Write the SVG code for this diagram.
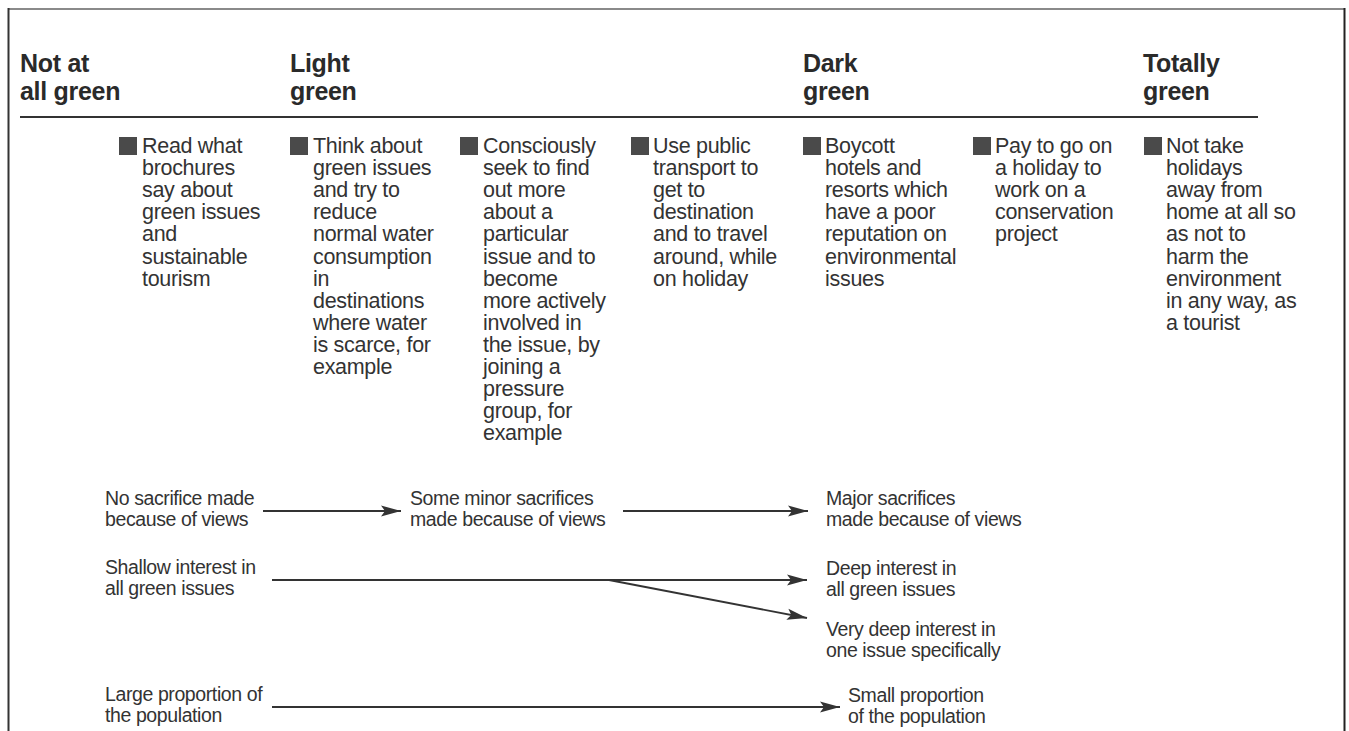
<svg xmlns="http://www.w3.org/2000/svg" width="1349" height="731" viewBox="0 0 1349 731">
<defs>
<style>
.hd{font-family:"Liberation Sans",Arial,sans-serif;font-weight:bold;font-size:25px;fill:#2a2a2a;letter-spacing:-0.3px}
.bt{font-family:"Liberation Sans",Arial,sans-serif;font-size:21.5px;fill:#333;letter-spacing:-0.3px}
.lb{font-family:"Liberation Sans",Arial,sans-serif;font-size:19.5px;fill:#333;letter-spacing:-0.4px}
.sq{fill:#4a4a4a}
.ln{stroke:#333;stroke-width:1.8;fill:none}
</style>
<marker id="ah" markerUnits="userSpaceOnUse" markerWidth="22" markerHeight="12" refX="20" refY="6" orient="auto">
<path d="M0,0.5 L20,6 L0,11.5 L4,6 Z" fill="#333"/>
</marker>
</defs>
<rect x="0" y="0" width="1349" height="731" fill="#fff"/>
<g id="frame">
<line x1="8" y1="9" x2="1345" y2="9" stroke="#8a8a8a" stroke-width="2"/>
<line x1="8.5" y1="8" x2="8.5" y2="731" stroke="#333" stroke-width="2"/>
<line x1="1344.5" y1="8" x2="1344.5" y2="731" stroke="#222" stroke-width="2"/>
</g>
<g id="headings">
<text class="hd" x="20" y="72">Not at</text>
<text class="hd" x="20" y="100">all green</text>
<text class="hd" x="290" y="72">Light</text>
<text class="hd" x="290" y="100">green</text>
<text class="hd" x="803" y="72">Dark</text>
<text class="hd" x="803" y="100">green</text>
<text class="hd" x="1143" y="72">Totally</text>
<text class="hd" x="1143" y="100">green</text>
<line x1="20" y1="117" x2="1258" y2="117" stroke="#333" stroke-width="2"/>
</g>
<g id="b1">
<rect class="sq" x="119" y="137" width="18" height="18"/>
<text class="bt" x="142" y="153">Read what<tspan x="142" dy="22.1">brochures</tspan><tspan x="142" dy="22.1">say about</tspan><tspan x="142" dy="22.1">green issues</tspan><tspan x="142" dy="22.1">and</tspan><tspan x="142" dy="22.1">sustainable</tspan><tspan x="142" dy="22.1">tourism</tspan></text>
</g>
<g id="b2">
<rect class="sq" x="290" y="137" width="18" height="18"/>
<text class="bt" x="313" y="153">Think about<tspan x="313" dy="22.1">green issues</tspan><tspan x="313" dy="22.1">and try to</tspan><tspan x="313" dy="22.1">reduce</tspan><tspan x="313" dy="22.1">normal water</tspan><tspan x="313" dy="22.1">consumption</tspan><tspan x="313" dy="22.1">in</tspan><tspan x="313" dy="22.1">destinations</tspan><tspan x="313" dy="22.1">where water</tspan><tspan x="313" dy="22.1">is scarce, for</tspan><tspan x="313" dy="22.1">example</tspan></text>
</g>
<g id="b3">
<rect class="sq" x="460" y="137" width="18" height="18"/>
<text class="bt" x="483" y="153">Consciously<tspan x="483" dy="22.1">seek to find</tspan><tspan x="483" dy="22.1">out more</tspan><tspan x="483" dy="22.1">about a</tspan><tspan x="483" dy="22.1">particular</tspan><tspan x="483" dy="22.1">issue and to</tspan><tspan x="483" dy="22.1">become</tspan><tspan x="483" dy="22.1">more actively</tspan><tspan x="483" dy="22.1">involved in</tspan><tspan x="483" dy="22.1">the issue, by</tspan><tspan x="483" dy="22.1">joining a</tspan><tspan x="483" dy="22.1">pressure</tspan><tspan x="483" dy="22.1">group, for</tspan><tspan x="483" dy="22.1">example</tspan></text>
</g>
<g id="b4">
<rect class="sq" x="631" y="137" width="18" height="18"/>
<text class="bt" x="653" y="153">Use public<tspan x="653" dy="22.1">transport to</tspan><tspan x="653" dy="22.1">get to</tspan><tspan x="653" dy="22.1">destination</tspan><tspan x="653" dy="22.1">and to travel</tspan><tspan x="653" dy="22.1">around, while</tspan><tspan x="653" dy="22.1">on holiday</tspan></text>
</g>
<g id="b5">
<rect class="sq" x="803" y="137" width="18" height="18"/>
<text class="bt" x="825" y="153">Boycott<tspan x="825" dy="22.1">hotels and</tspan><tspan x="825" dy="22.1">resorts which</tspan><tspan x="825" dy="22.1">have a poor</tspan><tspan x="825" dy="22.1">reputation on</tspan><tspan x="825" dy="22.1">environmental</tspan><tspan x="825" dy="22.1">issues</tspan></text>
</g>
<g id="b6">
<rect class="sq" x="973" y="137" width="18" height="18"/>
<text class="bt" x="995" y="153">Pay to go on<tspan x="995" dy="22.1">a holiday to</tspan><tspan x="995" dy="22.1">work on a</tspan><tspan x="995" dy="22.1">conservation</tspan><tspan x="995" dy="22.1">project</tspan></text>
</g>
<g id="b7">
<rect class="sq" x="1144" y="137" width="18" height="18"/>
<text class="bt" x="1166" y="153">Not take<tspan x="1166" dy="22.1">holidays</tspan><tspan x="1166" dy="22.1">away from</tspan><tspan x="1166" dy="22.1">home at all so</tspan><tspan x="1166" dy="22.1">as not to</tspan><tspan x="1166" dy="22.1">harm the</tspan><tspan x="1166" dy="22.1">environment</tspan><tspan x="1166" dy="22.1">in any way, as</tspan><tspan x="1166" dy="22.1">a tourist</tspan></text>
</g>
<g id="n-nosacrifice"><text class="lb" x="105" y="505">No sacrifice made<tspan x="105" dy="21">because of views</tspan></text></g>
<g id="n-minor"><text class="lb" x="410" y="505">Some minor sacrifices<tspan x="410" dy="21">made because of views</tspan></text></g>
<g id="n-major"><text class="lb" x="826" y="505">Major sacrifices<tspan x="826" dy="21">made because of views</tspan></text></g>
<g id="n-shallow"><text class="lb" x="105" y="574">Shallow interest in<tspan x="105" dy="21">all green issues</tspan></text></g>
<g id="n-deep"><text class="lb" x="826" y="575">Deep interest in<tspan x="826" dy="21">all green issues</tspan></text></g>
<g id="n-verydeep"><text class="lb" x="826" y="636">Very deep interest in<tspan x="826" dy="20.5">one issue specifically</tspan></text></g>
<g id="n-large"><text class="lb" x="105" y="701">Large proportion of<tspan x="105" dy="21">the population</tspan></text></g>
<g id="n-small"><text class="lb" x="848" y="702">Small proportion<tspan x="848" dy="21">of the population</tspan></text></g>
<g id="connectors">
<line class="ln" x1="263" y1="511" x2="401" y2="511" marker-end="url(#ah)"/>
<line class="ln" x1="623" y1="511" x2="808" y2="511" marker-end="url(#ah)"/>
<line class="ln" x1="272" y1="580" x2="807" y2="580" marker-end="url(#ah)"/>
<line class="ln" x1="609" y1="580" x2="807" y2="618" marker-end="url(#ah)"/>
<line class="ln" x1="272" y1="707" x2="840" y2="707" marker-end="url(#ah)"/>
</g>
</svg>
